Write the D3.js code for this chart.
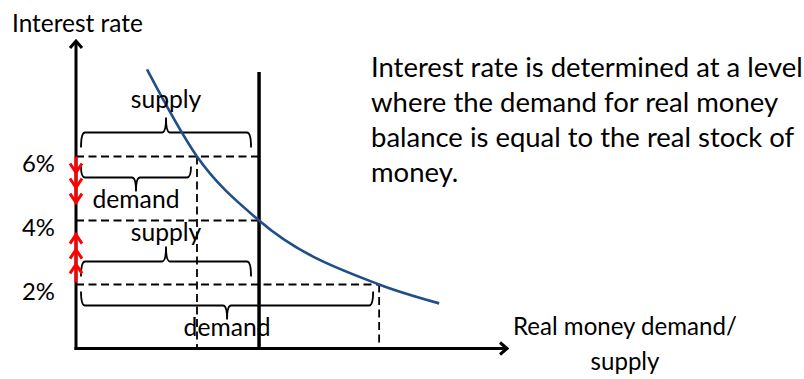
<!DOCTYPE html>
<html><head><meta charset="utf-8">
<script src="https://cdn.jsdelivr.net/npm/d3@7"></script>
<style>body{margin:0;background:#fff}svg{display:block}text{font-family:Lato,"Noto Sans",sans-serif;fill:#000}</style>
</head><body><svg id="c" width="804" height="379"></svg>
<script>
// ---- data ----
const rates = [2, 4, 6];
const tickLabels = ["2%", "4%", "6%"];
const moneySupply = 100;
const demandAtRate = [165.6, 100, 66.1];
const curveMoney = [38.8, 66.1, 100, 165.6, 198.4];
const curveRate  = [8.72, 6.0, 4.0, 2.0, 1.41];
const downArrowTips = [5.5, 5.03, 4.56];
const upArrowTips = [2.63, 3.09, 3.56];
const yTitle = "Interest rate";
const xTitle = ["Real money demand/", "supply"];
const note = ["Interest rate is determined at a level", "where the demand for real money", "balance is equal to the real stock of", "money."];

const svg = d3.select("#c");
const x = d3.scaleLinear().domain([0, 236]).range([76, 508]);
const y = d3.scaleLinear().domain([0, 9.64]).range([348.5, 40]);

function fit(sel, target) {
  sel.style("font-size", "20px");
  const w = sel.node().getComputedTextLength();
  const fs = 20 * target / w;
  sel.style("font-size", fs + "px");
  return fs;
}

// dashed guide lines
const dash = "8,4.5";
const g = svg.append("g").attr("stroke", "#000").attr("stroke-width", 1.8).attr("stroke-dasharray", dash).attr("fill", "none");
rates.forEach((r, i) => {
  const xe = r === 2 ? x(demandAtRate[0]) : x(moneySupply);
  g.append("line").attr("x1", x(0)).attr("x2", xe).attr("y1", y(r)).attr("y2", y(r));
});
[demandAtRate[2], demandAtRate[0]].forEach((m, i) => {
  const r = i === 0 ? 6 : 2;
  g.append("line").attr("x1", x(m)).attr("x2", x(m)).attr("y1", y(r)).attr("y2", y(0));
});

// braces
function brace(x1, x2, yEnd, yMid, yTip, xt) {
  const r = 4;
  return `M${x1},${yEnd} Q${x1},${yMid} ${x1 + r},${yMid} L${xt - r},${yMid} Q${xt},${yMid} ${xt},${yTip}` +
         ` Q${xt},${yMid} ${xt + r},${yMid} L${x2 - r},${yMid} Q${x2},${yMid} ${x2},${yEnd}`;
}
const bg = svg.append("g").attr("stroke", "#000").attr("stroke-width", 1.8).attr("fill", "none");
const bx1 = x(0) + 5;
bg.append("path").attr("d", brace(bx1, x(moneySupply) - 8, y(6) - 9, y(6) - 24, y(6) - 39, (bx1 + x(moneySupply) - 8) / 2));
bg.append("path").attr("d", brace(bx1, x(demandAtRate[2]) - 6, y(6) + 10, y(6) + 21, y(6) + 35, (bx1 + x(demandAtRate[2]) - 6) / 2));
bg.append("path").attr("d", brace(bx1, x(moneySupply) - 8, y(2) - 8, y(2) - 23, y(2) - 38, (bx1 + x(moneySupply) - 8) / 2));
bg.append("path").attr("d", brace(bx1, x(demandAtRate[0]) - 6, y(2) + 7, y(2) + 21, y(2) + 35, (bx1 + x(demandAtRate[0]) - 6) / 2));

// supply vertical line
svg.append("line").attr("x1", x(moneySupply)).attr("x2", x(moneySupply)).attr("y1", 72).attr("y2", y(0))
  .attr("stroke", "#000").attr("stroke-width", 3.5);

// demand curve
const pts = curveMoney.map((m, i) => [m, curveRate[i]]);
svg.append("path").attr("d", d3.line().x(d => x(d[0])).y(d => y(d[1])).curve(d3.curveMonotoneX)(pts))
  .attr("fill", "none").attr("stroke", "#1f4e88").attr("stroke-width", 2.6);

// axes
const ax = svg.append("g").attr("stroke", "#000").attr("stroke-width", 3).attr("fill", "none");
ax.append("line").attr("x1", x(0)).attr("x2", x(0)).attr("y1", y(0) + 1.5).attr("y2", y.range()[1] + 1);
ax.append("line").attr("x1", x(0) - 1.5).attr("x2", x.range()[1] - 1).attr("y1", y(0)).attr("y2", y(0));
ax.append("path").attr("d", `M${x(0) - 6},${y.range()[1] + 8} L${x(0)},${y.range()[1] + 1} L${x(0) + 6},${y.range()[1] + 8}`);
ax.append("path").attr("d", `M${x.range()[1] - 8},${y(0) - 6} L${x.range()[1] - 1},${y(0)} L${x.range()[1] - 8},${y(0) + 6}`);

// red arrows
const rg = svg.append("g").attr("stroke", "red").attr("stroke-width", 3).attr("fill", "none");
rg.append("line").attr("x1", x(0)).attr("x2", x(0)).attr("y1", y(6)).attr("y2", y(downArrowTips[2]) + 1);
downArrowTips.forEach(t => rg.append("path").attr("d", `M${x(0) - 6},${y(t) - 9} L${x(0)},${y(t)} L${x(0) + 6},${y(t) - 9}`));
rg.append("line").attr("x1", x(0)).attr("x2", x(0)).attr("y1", y(2) - 2).attr("y2", y(upArrowTips[2]) - 1);
upArrowTips.forEach(t => rg.append("path").attr("d", `M${x(0) - 6},${y(t) + 9} L${x(0)},${y(t)} L${x(0) + 6},${y(t) + 9}`));

// y tick labels via d3 axis
const yAxis = svg.append("g").attr("transform", `translate(${x(0)},0)`)
  .call(d3.axisLeft(y).tickValues(rates).tickFormat((d, i) => tickLabels[i]).tickSize(0).tickPadding(21));
yAxis.select(".domain").remove();
yAxis.selectAll("text").style("font-family", "Lato,'Noto Sans',sans-serif").attr("fill", "#000").attr("dy", "0.62em");
const tfs = fit(yAxis.select("text"), 33);
yAxis.selectAll("text").style("font-size", tfs + "px");

// brace labels
const lab = [["supply", (bx1 + x(moneySupply) - 8) / 2, y(6) - 48], ["demand", (bx1 + x(demandAtRate[2]) - 6) / 2, y(6) + 52],
             ["supply", (bx1 + x(moneySupply) - 8) / 2, y(2) - 43], ["demand", (bx1 + x(demandAtRate[0]) - 6) / 2, y(2) + 52]];
const labSel = svg.selectAll("text.lab").data(lab).join("text").attr("class", "lab")
  .attr("x", d => d[1]).attr("y", d => d[2]).attr("text-anchor", "middle").text(d => d[0]);
const lfs = fit(labSel.filter((d, i) => i === 1), 87);
labSel.style("font-size", lfs + "px");

// titles
fit(svg.append("text").attr("x", 12).attr("y", 32).text(yTitle), 131);
const xt1 = svg.append("text").attr("x", 513).attr("y", 335).text(xTitle[0]);
const xfs = fit(xt1, 224);
svg.append("text").attr("x", 625).attr("y", 370).attr("text-anchor", "middle").style("font-size", xfs + "px").text(xTitle[1]);

// note
const ns = svg.selectAll("text.note").data(note).join("text").attr("class", "note")
  .attr("x", 371).attr("y", (d, i) => 77 + i * 35).text(d => d);
const nfs = fit(ns.filter((d, i) => i === 0), 432);
ns.style("font-size", nfs + "px");
</script></body></html>
